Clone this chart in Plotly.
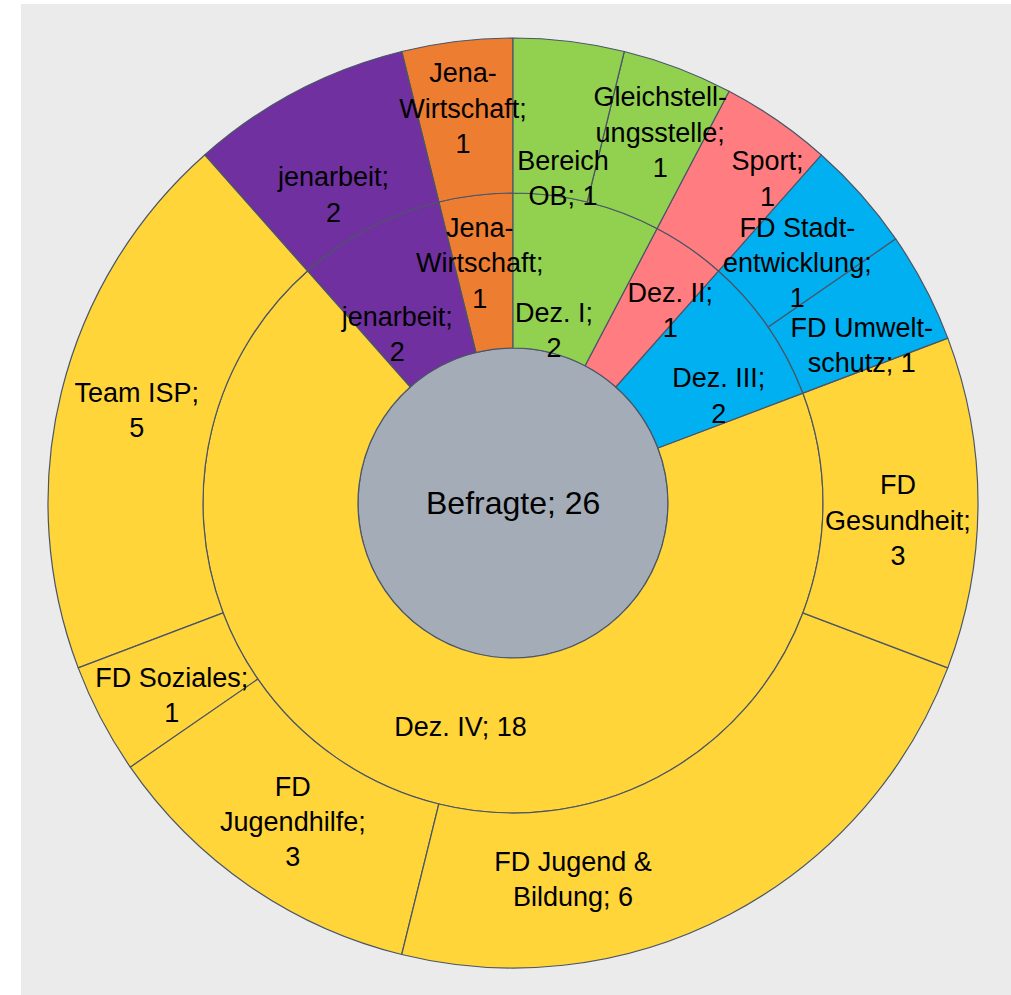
import plotly.graph_objects as go

# ---- data (listed counter-clockwise from 12 o'clock) ----
ids = ["root",
       "Jena-Wirtschaft", "jenarbeit", "Dez. IV", "Dez. III", "Dez. II", "Dez. I",
       "Jena-Wirtschaft/leaf", "jenarbeit/leaf",
       "Team ISP", "FD Soziales", "FD Jugendhilfe", "FD Jugend & Bildung", "FD Gesundheit",
       "FD Umweltschutz", "FD Stadtentwicklung",
       "Sport",
       "Gleichstellungsstelle", "Bereich OB"]
parents = ["",
           "root", "root", "root", "root", "root", "root",
           "Jena-Wirtschaft", "jenarbeit",
           "Dez. IV", "Dez. IV", "Dez. IV", "Dez. IV", "Dez. IV",
           "Dez. III", "Dez. III",
           "Dez. II",
           "Dez. I", "Dez. I"]
values = [26,
          1, 2, 18, 2, 1, 2,
          1, 2,
          5, 1, 3, 6, 3,
          1, 1,
          1,
          1, 1]
root_label = "Befragte"
display_labels = ["",
                  "Jena-<br>Wirtschaft;<br>1", "jenarbeit;<br>2", "Dez. IV; 18",
                  "Dez. III;<br>2", "Dez. II;<br>1", "Dez. I;<br>2",
                  "Jena-<br>Wirtschaft;<br>1", "jenarbeit;<br>2",
                  "Team ISP;<br>5", "FD Soziales;<br>1", "FD<br>Jugendhilfe;<br>3",
                  "FD Jugend &<br>Bildung; 6", "FD<br>Gesundheit;<br>3",
                  "FD Umwelt-<br>schutz; 1", "FD Stadt-<br>entwicklung;<br>1",
                  "Sport;<br>1",
                  "Gleichstell-<br>ungsstelle;<br>1", "Bereich<br>OB; 1"]

# ---- label nudges (blank lines above/below, blank spaces left/right) ----
NB = "\u00a0"
nudge = {  # id: (above, below, left, right)
    "Jena-Wirtschaft": (2, 0, 0, 0),
    "jenarbeit": (3, 0, 0, 0),
    "Dez. IV": (1, 0, 0, 14),
    "Dez. III": (2, 0, 0, 0),
    "Dez. II": (2, 0, 0, 0),
    "Dez. I": (4, 0, 0, 5),
    "Jena-Wirtschaft/leaf": (1, 0, 0, 0),
    "jenarbeit/leaf": (2, 0, 0, 0),
    "FD Soziales": (0, 0, 7, 0),
    "FD Jugend & Bildung": (0, 2, 16, 0),
    "FD Gesundheit": (1, 0, 0, 0),
    "FD Umweltschutz": (2, 0, 0, 5),
    "FD Stadtentwicklung": (2, 0, 0, 7),
    "Sport": (1, 0, 5, 0),
    "Gleichstellungsstelle": (1, 0, 0, 0),
    "Bereich OB": (5, 0, 0, 0),
}


def padded(i, txt):
    above, below, left, right = nudge.get(i, (0, 0, 0, 0))
    lines = [NB * left + ln + NB * right for ln in txt.split("<br>")]
    return "<br>".join([NB] * above + lines + [NB] * below)


shown_text = [padded(i, t) for i, t in zip(ids, display_labels)]

GREY, ORANGE, PURPLE, YELLOW = "#A3ACB7", "#ED7D31", "#7030A0", "#FFD53A"
BLUE, PINK, GREEN = "#00B0F0", "#FF7C80", "#92D050"
colors = [GREY,
          ORANGE, PURPLE, YELLOW, BLUE, PINK, GREEN,
          ORANGE, PURPLE,
          YELLOW, YELLOW, YELLOW, YELLOW, YELLOW,
          BLUE, BLUE,
          PINK,
          GREEN, GREEN]

W, H = 1011, 995
cx, cy, R = 513, 503, 465
dom = dict(x=[(cx - R) / W, (cx + R) / W], y=[(H - cy - R) / H, (H - cy + R) / H])
FONT = "Liberation Sans, Arial, sans-serif"
labels = [i.split("/")[0] for i in ids]

common = dict(ids=ids, parents=parents, values=values, labels=labels,
              branchvalues="total", sort=False, rotation=90, domain=dom,
              hoverinfo="skip", insidetextorientation="horizontal")

# coloured wedges
fig = go.Figure(go.Sunburst(
    **common,
    textinfo="none",
    leaf=dict(opacity=1),
    marker=dict(colors=colors, line=dict(color="#4A5668", width=1.2)),
))
# transparent copy on top carrying the labels (so overflowing labels stay visible)
fig.add_trace(go.Sunburst(
    **common,
    text=shown_text, texttemplate="%{text}",
    leaf=dict(opacity=1),
    marker=dict(colors=["rgba(0,0,0,0)"] * len(ids), line=dict(width=0)),
    textfont=dict(family=FONT, size=27, color="black"),
))

fig.update_layout(
    width=W, height=H,
    margin=dict(l=0, r=0, t=0, b=0),
    paper_bgcolor="white",
    uniformtext=dict(minsize=27, mode="show"),
    shapes=[dict(type="rect", xref="paper", yref="paper",
                 x0=21 / W, x1=1, y0=0, y1=(H - 4) / H,
                 fillcolor="#EBEBEB", line=dict(width=0), layer="below")],
    annotations=[dict(text=f"{root_label}; {values[0]}", showarrow=False,
                      xref="paper", yref="paper",
                      x=sum(dom["x"]) / 2, y=sum(dom["y"]) / 2,
                      font=dict(family=FONT, size=32, color="black"))],
)

fig.write_html("out.html", config={"displayModeBar": False},
               post_script="document.body.style.margin='0';")
